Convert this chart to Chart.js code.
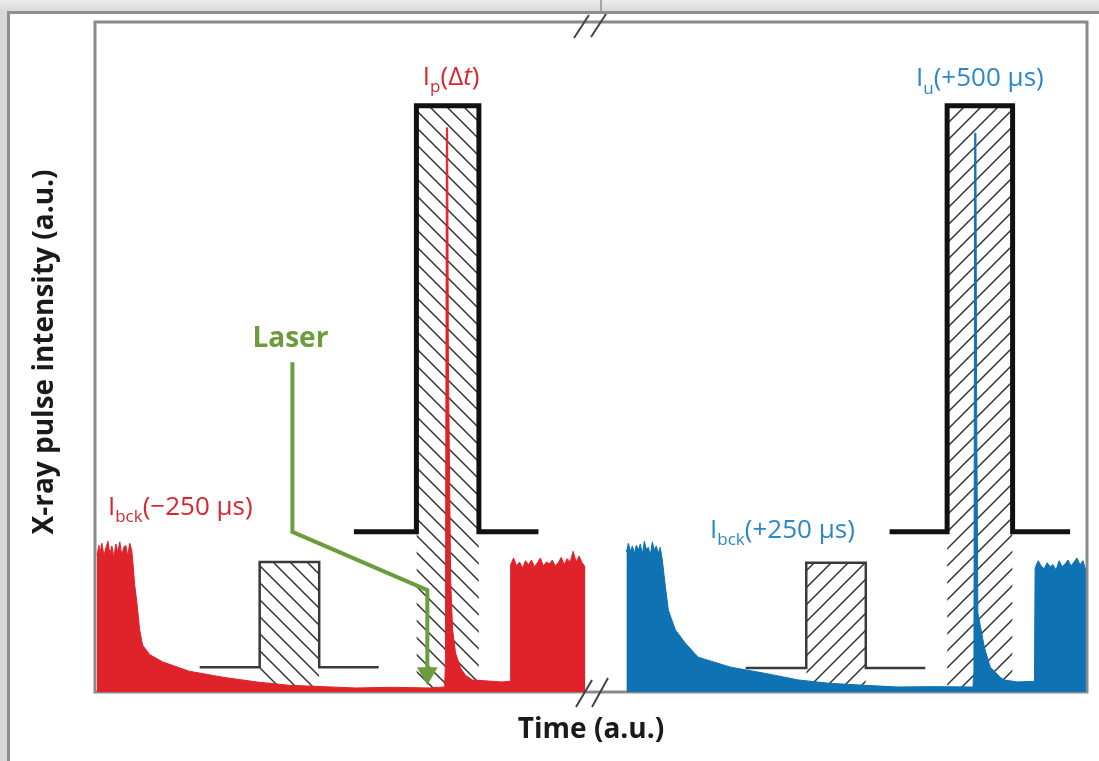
<!DOCTYPE html>
<html>
<head>
<meta charset="utf-8">
<script src="https://cdn.jsdelivr.net/npm/chart.js@4.4.0/dist/chart.umd.min.js"></script>
<style>
    html, body { margin: 0; padding: 0; }
    body { width: 1099px; height: 761px; overflow: hidden; background: #d9d9d9; position: relative; }
    #strip { position: absolute; left: 0; top: 0; width: 1099px; height: 11px; background: linear-gradient(#ebebeb, #dadada); }
    #strip-split { position: absolute; left: 600px; top: 0; width: 2px; height: 11px; background: #a3a3a3; }
    #sheet { position: absolute; left: 7px; top: 11px; right: 0; bottom: 0; background: #fff;
             border-left: 3px solid #8e8e8e; border-top: 3px solid #8e8e8e; }
    #chart { position: absolute; left: 0; top: 0; }
</style>
</head>
<body>
<div id="strip"></div>
<div id="strip-split"></div>
<div id="sheet"></div>
<canvas id="chart" width="1099" height="761"></canvas>
<script>
// --- DATA (time and intensity in a.u.) ---
const redTime = [
    0.2, 0.4, 0.5, 0.7, 0.9, 1.1, 1.3, 1.5, 1.7, 1.9, 2.1, 2.3, 2.5, 2.7, 2.9, 3.1, 3.3, 3.5, 3.7, 3.8,
    4.0, 4.2, 4.5, 4.8, 5.5, 6.8, 9.5, 12.9, 16.3, 19.6, 23.0, 26.3, 30.0, 33.7, 35.25,
    35.33, 35.42, 35.55, 35.62, 35.85, 36.05, 36.35, 36.85, 37.35, 38.05, 39.0, 40.0, 41.0, 41.85,
    41.9, 42.2, 42.5, 42.8, 43.1, 43.4, 43.7, 44.0, 44.3, 44.6, 44.9, 45.2, 45.5, 45.8, 46.1, 46.4,
    46.7, 47.0, 47.3, 47.6, 47.9, 48.2, 48.5, 48.8, 49.1, 49.35, 49.35
];
const redLevel = [
    20.4, 21.9, 20.7, 22.2, 20.3, 21.5, 22.5, 20.6, 21.8, 20.1, 22.1, 20.9, 22.4, 20.4, 21.6, 21.9, 20.3, 22.2, 21.2, 19.7,
    16.0, 13.7, 9.3, 7.0, 5.6, 4.5, 3.1, 2.2, 1.5, 1.0, 0.8, 0.6, 0.7, 0.6, 0.75,
    5.0, 84.2, 84.2, 50.0, 16.7, 9.3, 5.8, 3.6, 2.5, 1.8, 1.7, 1.6, 1.5, 1.6,
    19.0, 20.0, 18.8, 19.4, 18.5, 19.6, 19.0, 19.7, 18.7, 19.3, 20.0, 18.8, 19.4, 19.1, 19.7, 18.8,
    19.3, 20.1, 19.0, 19.9, 19.4, 21.0, 19.4, 20.3, 19.3, 18.8, 0
];
const blueTime = [
    53.57, 53.77, 53.97, 54.17, 54.37, 54.57, 54.77, 54.97, 55.18, 55.38, 55.58, 55.78, 55.98, 56.18, 56.38, 56.58, 56.78, 56.98, 57.19,
    57.5, 57.8, 58.5, 59.5, 60.8, 64.1, 67.5, 70.9, 74.0, 77.6, 80.9, 84.5, 88.5,
    88.6, 88.68, 88.8, 88.87, 89.0, 89.65, 90.25, 91.25, 91.65, 93.0, 94.7,
    94.77, 95.08, 95.38, 95.68, 95.98, 96.28, 96.58, 96.88, 97.19, 97.49, 97.79, 98.09, 98.39, 98.69, 98.99, 99.3, 99.6, 99.8, 99.8
];
const blueLevel = [
    20.9, 22.2, 21.0, 21.8, 20.7, 21.9, 21.2, 22.1, 20.6, 22.5, 21.3, 21.6, 20.4, 22.4, 21.2, 21.8, 20.7, 21.6, 19.7,
    15.7, 12.2, 9.3, 7.3, 5.2, 3.7, 2.8, 1.8, 1.3, 1.0, 0.75, 0.8, 0.75,
    3.0, 83.4, 83.4, 45.0, 11.8, 6.7, 3.7, 2.2, 1.8, 1.5, 1.6,
    18.5, 19.6, 18.8, 18.4, 19.3, 18.7, 19.0, 18.2, 19.6, 18.7, 19.1, 19.7, 18.8, 19.4, 20.0, 19.0, 19.6, 18.5, 0
];

// gate windows: start/end time and top level of each rectangle
const gateStart = [16.6, 32.4, 71.7, 85.9];
const gateEnd = [22.6, 38.7, 77.7, 92.5];
const gateTop = [19.4, 87.5, 19.3, 87.5];
const gateBase = [3.7, 23.9, 3.6, 23.9];
const gateLead = [10.55, 26.1, 65.6, 80.1];
const gateTail = [28.6, 44.7, 83.7, 98.3];

// laser arrow
const laserTime = [19.9, 19.9, 33.5, 33.5];
const laserLevel = [49.2, 23.9, 15.2, 2.8];

const axisBreak = 50;

// --- STYLE ---
const RED = '#e0232a';
const RED_TEXT = '#d8262e';
const BLUE = '#0f72b3';
const BLUE_TEXT = '#2a87c9';
const GREEN = '#6c9c3b';
const FONT = '"Open Sans", "Noto Sans", sans-serif';

const probeLabel = [{ t: 'I' }, { t: 'p', sub: true }, { t: '(Δ' }, { t: 't', italic: true }, { t: ')' }];
const unpumpedLabel = [{ t: 'I' }, { t: 'u', sub: true }, { t: '(+500 µs)' }];
const bckBeforeLabel = [{ t: 'I' }, { t: 'bck', sub: true }, { t: '(−250 µs)' }];
const bckAfterLabel = [{ t: 'I' }, { t: 'bck', sub: true }, { t: '(+250 µs)' }];

const annotations = [
    { parts: probeLabel, x: 35.9, y: 90.6, align: 'center', color: RED_TEXT },
    { parts: unpumpedLabel, x: 89.2, y: 90.4, align: 'center', color: BLUE_TEXT },
    { parts: bckBeforeLabel, x: 1.3, y: 26.4, align: 'left', color: RED_TEXT },
    { parts: bckAfterLabel, x: 62.0, y: 23.0, align: 'left', color: BLUE_TEXT }
];

const canvas = document.getElementById('chart');
const ctx2d = canvas.getContext('2d');

const pts = (xs, ys) => xs.map((x, i) => ({ x, y: ys[i] }));

function hatch(dir) {
    const s = 17;
    const c = document.createElement('canvas');
    c.width = s;
    c.height = s;
    const g = c.getContext('2d');
    g.strokeStyle = '#333';
    g.lineWidth = 1.5;
    g.beginPath();
    if (dir === 'back') {
        g.moveTo(-2, -2); g.lineTo(s + 2, s + 2);
        g.moveTo(-2, s - 2); g.lineTo(2, s + 2);
        g.moveTo(s - 2, -2); g.lineTo(s + 2, 2);
    } else {
        g.moveTo(-2, s + 2); g.lineTo(s + 2, -2);
        g.moveTo(-2, 2); g.lineTo(2, -2);
        g.moveTo(s - 2, s + 2); g.lineTo(s + 2, s - 2);
    }
    g.stroke();
    return ctx2d.createPattern(c, 'repeat');
}

const hatchBack = hatch('back');
const hatchFwd = hatch('fwd');

const datasets = [];

// hatched columns under each gate
gateStart.forEach((s, i) => {
    datasets.push({
        data: [{ x: s, y: 0 }, { x: s, y: gateTop[i] }, { x: gateEnd[i], y: gateTop[i] }, { x: gateEnd[i], y: 0 }],
        fill: 'origin',
        backgroundColor: i < 2 ? hatchBack : hatchFwd,
        borderColor: 'rgba(0,0,0,0)',
        borderWidth: 1,
        pointRadius: 0,
        order: 6
    });
});

// detector traces
datasets.push({
    data: pts(redTime, redLevel), fill: 'origin', backgroundColor: RED,
    borderColor: RED, borderWidth: 1, pointRadius: 0, order: 4
});
datasets.push({
    data: pts(blueTime, blueLevel), fill: 'origin', backgroundColor: BLUE,
    borderColor: BLUE, borderWidth: 1, pointRadius: 0, order: 4
});

// gate outlines
gateStart.forEach((s, i) => {
    const tall = gateTop[i] > 50;
    datasets.push({
        data: pts(
            [gateLead[i], s, s, gateEnd[i], gateEnd[i], gateTail[i]],
            [gateBase[i], gateBase[i], gateTop[i], gateTop[i], gateBase[i], gateBase[i]]
        ),
        borderColor: tall ? '#111' : '#3a3a3a',
        borderWidth: tall ? 5 : 2.5,
        borderJoinStyle: 'miter',
        borderCapStyle: 'butt',
        pointRadius: 0,
        fill: false,
        order: 2
    });
});

// laser arrow
datasets.push({
    data: pts(laserTime, laserLevel),
    borderColor: GREEN,
    borderWidth: 4,
    borderJoinStyle: 'miter',
    fill: false,
    pointRadius: [0, 0, 0, 12],
    pointStyle: 'triangle',
    pointRotation: 180,
    pointBackgroundColor: GREEN,
    pointBorderColor: GREEN,
    pointBorderWidth: 0,
    order: 1
});

function richText(ctx, parts, x, y, align, size, color) {
    const fontFor = p => `${p.italic ? 'italic ' : ''}${p.sub ? Math.round(size * 0.66) : size}px ${FONT}`;
    let w = 0;
    parts.forEach(p => { ctx.font = fontFor(p); w += ctx.measureText(p.t).width; });
    let cx = align === 'center' ? x - w / 2 : x;
    ctx.fillStyle = color;
    ctx.textAlign = 'left';
    ctx.textBaseline = 'alphabetic';
    parts.forEach(p => {
        ctx.font = fontFor(p);
        ctx.fillText(p.t, cx, p.sub ? y + size * 0.28 : y);
        cx += ctx.measureText(p.t).width;
    });
}

const figureDecor = {
    id: 'figureDecor',
    beforeDatasetsDraw(chart) {
        const { ctx, chartArea: a } = chart;
        ctx.save();
        ctx.strokeStyle = '#8a8a8a';
        ctx.lineWidth = 3;
        ctx.strokeRect(a.left, a.top, a.right - a.left, a.bottom - a.top);
        ctx.restore();
    },
    afterDatasetsDraw(chart) {
        const { ctx, chartArea: a, scales: { x, y } } = chart;
        ctx.save();

        // axis break marks
        const bx = x.getPixelForValue(axisBreak);
        ctx.strokeStyle = '#444';
        ctx.lineWidth = 2;
        ctx.beginPath();
        ctx.moveTo(bx - 17, a.top + 16); ctx.lineTo(bx - 2, a.top - 7);
        ctx.moveTo(bx, a.top + 15); ctx.lineTo(bx + 15, a.top - 8);
        ctx.moveTo(bx - 15, a.bottom + 15); ctx.lineTo(bx + 1, a.bottom - 12);
        ctx.moveTo(bx + 1, a.bottom + 15); ctx.lineTo(bx + 17, a.bottom - 14);
        ctx.stroke();

        // pulse labels
        annotations.forEach(l => {
            richText(ctx, l.parts, x.getPixelForValue(l.x), y.getPixelForValue(l.y), l.align, 26, l.color);
        });

        ctx.fillStyle = GREEN;
        ctx.font = `bold 28px ${FONT}`;
        ctx.textAlign = 'center';
        ctx.textBaseline = 'alphabetic';
        ctx.fillText('Laser', x.getPixelForValue(19.7), y.getPixelForValue(51.5));

        // axis titles
        ctx.fillStyle = '#1a1a1a';
        ctx.font = `bold 28px ${FONT}`;
        ctx.fillText('Time (a.u.)', x.getPixelForValue(50), a.bottom + 46);

        ctx.translate(a.left - 50, (a.top + a.bottom) / 2 - 5);
        ctx.rotate(-Math.PI / 2);
        ctx.textBaseline = 'middle';
        ctx.fillText('X-ray pulse intensity (a.u.)', 0, 0);
        ctx.restore();
    }
};

new Chart(canvas, {
    type: 'line',
    data: { datasets },
    options: {
        responsive: false,
        animation: false,
        events: [],
        layout: { padding: { left: 95, top: 22, right: 9, bottom: 69 } },
        scales: {
            x: { type: 'linear', min: 0, max: 100, display: false },
            y: { type: 'linear', min: 0, max: 100, display: false }
        },
        plugins: {
            legend: { display: false },
            tooltip: { enabled: false }
        }
    },
    plugins: [figureDecor]
});
</script>
</body>
</html>
